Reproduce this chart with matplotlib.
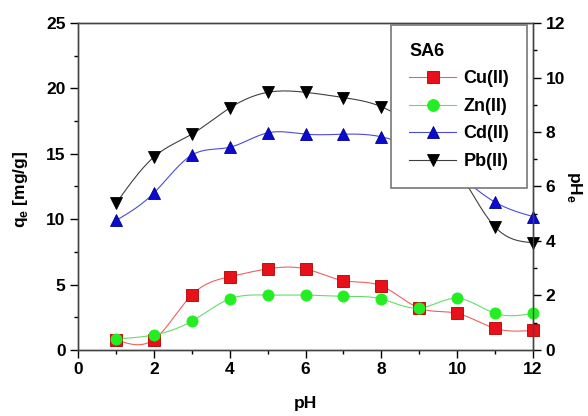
import numpy as np
import matplotlib

matplotlib.use("Agg")
import matplotlib.pyplot as plt
from matplotlib.ticker import MultipleLocator

plt.rcParams["font.family"] = ["Liberation Sans", "DejaVu Sans"]
plt.rcParams["font.weight"] = "bold"
plt.rcParams["font.size"] = 12.5

# ---------------------------------------------------------------------------
# Data
# ---------------------------------------------------------------------------
ph = [1, 2, 3, 4, 5, 6, 7, 8, 9, 10, 11, 12]
cu = [0.8, 0.8, 4.2, 5.6, 6.2, 6.2, 5.3, 4.9, 3.2, 2.8, 1.65, 1.5]
zn = [0.85, 1.15, 2.2, 3.9, 4.2, 4.2, 4.1, 3.9, 3.2, 3.95, 2.8, 2.8]
cd = [9.9, 12.0, 14.9, 15.5, 16.6, 16.5, 16.5, 16.3, 15.2, 13.4, 11.3, 10.2]
pb = [11.2, 14.75, 16.5, 18.5, 19.7, 19.7, 19.3, 18.6, 16.8, 13.8, 9.4, 8.2]

SERIES = [
    ("Cu(II)", cu, "s", "#e8111a", "#b00000", "#f06060"),
    ("Zn(II)", zn, "o", "#22ee22", "#22ee22", "#66dd66"),
    ("Cd(II)", cd, "^", "#0a0ad0", "#00008a", "#4a4ae0"),
    ("Pb(II)", pb, "v", "#000000", "#000000", "#404040"),
]


def smooth(x, y, n=300):
    """Natural cubic spline through the points, only used to draw the line."""
    x = np.asarray(x, float)
    y = np.asarray(y, float)
    k = len(x)
    h = np.diff(x)
    a = np.zeros((k, k))
    b = np.zeros(k)
    a[0, 0] = a[-1, -1] = 1.0
    for i in range(1, k - 1):
        a[i, i - 1] = h[i - 1]
        a[i, i] = 2 * (h[i - 1] + h[i])
        a[i, i + 1] = h[i]
        b[i] = 6 * ((y[i + 1] - y[i]) / h[i] - (y[i] - y[i - 1]) / h[i - 1])
    m = np.linalg.solve(a, b)
    xs = np.linspace(x[0], x[-1], n)
    idx = np.clip(np.searchsorted(x, xs) - 1, 0, k - 2)
    x0, x1 = x[idx], x[idx + 1]
    hh = x1 - x0
    t0, t1 = x1 - xs, xs - x0
    ys = (m[idx] * t0**3 + m[idx + 1] * t1**3) / (6 * hh) \
        + (y[idx] / hh - m[idx] * hh / 6) * t0 \
        + (y[idx + 1] / hh - m[idx + 1] * hh / 6) * t1
    return xs, ys


fig = plt.figure(figsize=(5.88, 4.16), dpi=100)
ax = fig.add_axes([0.1327, 0.1587, 0.7738, 0.786])

handles = []
for label, vals, marker, face, edge, line in SERIES:
    xs, ys = smooth(ph, vals)
    ax.plot(xs, ys, color=line, linewidth=0.8, zorder=2)
    ax.plot(ph, vals, linestyle="none", marker=marker, markersize=8,
            markerfacecolor=face, markeredgecolor=edge, markeredgewidth=0.6,
            clip_on=False, zorder=3)
    h, = ax.plot([], [], color=line, linewidth=0.8, marker=marker, markersize=8.5,
                 markerfacecolor=face, markeredgecolor=edge, markeredgewidth=0.6)
    handles.append(h)

ax.set_xlim(0, 12)
ax.set_ylim(0, 25)
ax.xaxis.set_major_locator(MultipleLocator(2))
ax.xaxis.set_minor_locator(MultipleLocator(1))
ax.yaxis.set_major_locator(MultipleLocator(5))
ax.yaxis.set_minor_locator(MultipleLocator(2.5))
ax.tick_params(which="major", direction="out", length=6, width=1, pad=3)
ax.tick_params(which="minor", direction="out", length=3, width=1)
ax.set_xlabel("pH", fontweight="bold")
ax.set_ylabel("q$_\\mathregular{e}$ [mg/g]", fontweight="bold")
ax.xaxis.set_label_coords(0.5, -0.14)
ax.yaxis.set_label_coords(-0.105, 0.49)

ax2 = ax.twinx()
ax2.set_ylim(0, 12)
ax2.yaxis.set_major_locator(MultipleLocator(2))
ax2.yaxis.set_minor_locator(MultipleLocator(1))
ax2.tick_params(which="major", direction="out", length=6, width=1, pad=3)
ax2.tick_params(which="minor", direction="out", length=3, width=1)
ax2.set_ylabel("pH$_\\mathregular{e}$", rotation=-90, fontweight="bold", labelpad=14)

for a in (ax, ax2):
    for s in a.spines.values():
        s.set_color("#444444")
        s.set_linewidth(1.0)

leg = ax2.legend(handles, [s[0] for s in SERIES], title="SA6",
                 loc="upper right", bbox_to_anchor=(0.987, 0.994), borderaxespad=0,
                 fontsize=13, title_fontproperties={"weight": "bold", "size": 13},
                 handlelength=2.6, handletextpad=0.4, labelspacing=0.58,
                 borderpad=1.0, fancybox=False, framealpha=1.0,
                 edgecolor="#777777", alignment="left")
leg.get_frame().set_linewidth(1.2)

fig.savefig("out.png", dpi=100)
